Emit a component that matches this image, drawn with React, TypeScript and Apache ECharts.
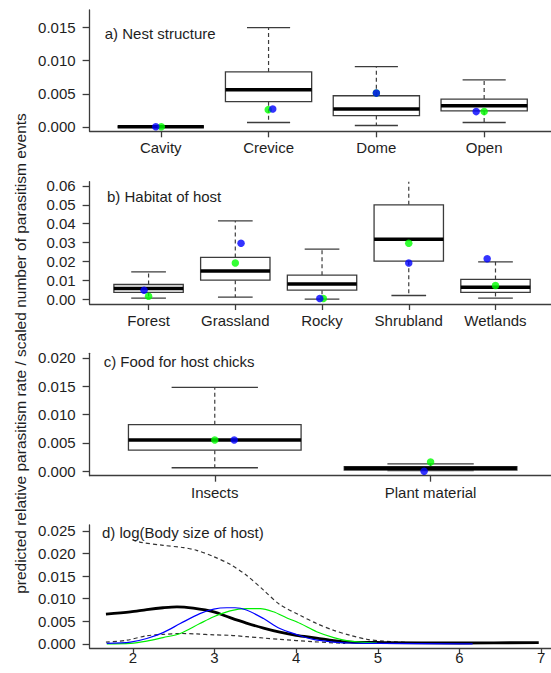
import React, { useEffect, useRef } from "react";
import * as echarts from "echarts";

// ---------- data ----------
const nestCats = ["Cavity", "Crevice", "Dome", "Open"];
// [lower whisker, Q1, median, Q3, upper whisker]
const nestBox = [
  [0, 0, 0, 0, 0],
  [0.00065, 0.0038, 0.0056, 0.0083, 0.015],
  [0.0002, 0.0017, 0.0027, 0.0047, 0.0091],
  [0.00065, 0.0024, 0.0032, 0.0042, 0.0071],
];
const nestGreen = [[1.005, 0], [1.997, 0.0026], [3.0, 0.0051], [4.0, 0.0023]];
const nestBlue = [[0.954, 0], [2.039, 0.0027], [3.0, 0.0051], [3.926, 0.0023]];
const nestTicks = [0, 0.005, 0.01, 0.015];

const habitatCats = ["Forest", "Grassland", "Rocky", "Shrubland", "Wetlands"];
const habitatBox = [
  [0.0007, 0.0037, 0.0058, 0.0079, 0.0146],
  [0.0012, 0.0102, 0.015, 0.0222, 0.0415],
  [0.0002, 0.0049, 0.0081, 0.0128, 0.0266],
  [0.0021, 0.0202, 0.0318, 0.05, 0.068],
  [0.0007, 0.0037, 0.0065, 0.0106, 0.0199],
];
const habitatGreen = [[1.0, 0.0017], [2.0, 0.0193], [3.015, 0.0005], [4.0, 0.0297], [5.0, 0.0074]];
const habitatBlue = [[0.948, 0.0049], [2.066, 0.0297], [2.974, 0.0005], [4.0, 0.0193], [4.904, 0.0215]];
const habitatTicks = [0, 0.01, 0.02, 0.03, 0.04, 0.05, 0.06];

const foodCats = ["Insects", "Plant material"];
const foodBox = [
  [0.0006, 0.0037, 0.0055, 0.0082, 0.0148],
  [0.0001, 0.0002, 0.0005, 0.0008, 0.0013],
];
const foodGreen = [[1.0, 0.0055], [2.0, 0.0016]];
const foodBlue = [[1.09, 0.0055], [1.97, 0.0]];
const foodTicks = [0, 0.005, 0.01, 0.015, 0.02];

const bodyTicksX = [2, 3, 4, 5, 6, 7];
const bodyTicksY = [0, 0.005, 0.01, 0.015, 0.02, 0.025];
const bodyMedian = [
  [1.67, 0.0066], [1.97, 0.0071], [2.17, 0.0076], [2.37, 0.008], [2.54, 0.0082],
  [2.74, 0.0079], [2.99, 0.0071], [3.19, 0.0058], [3.39, 0.0046], [3.6, 0.0035],
  [3.8, 0.0026], [4.0, 0.0019], [4.25, 0.0013], [4.46, 0.0007], [4.66, 0.0004],
  [5.07, 0.0003], [6.0, 0.0002], [6.97, 0.0003],
];
const bodyUpper = [
  [1.68, 0.0255], [1.85, 0.024], [2.07, 0.0226], [2.37, 0.0218], [2.62, 0.0213],
  [2.78, 0.0207], [2.99, 0.0193], [3.19, 0.0176], [3.39, 0.0152], [3.6, 0.0119],
  [3.8, 0.0087], [4.05, 0.0063], [4.25, 0.0045], [4.46, 0.003], [4.66, 0.0019],
  [4.87, 0.001], [5.07, 0.0006], [5.39, 0.0003],
];
const bodyLower = [
  [1.67, 0.0004], [1.92, 0.0008], [2.17, 0.0018], [2.37, 0.0021], [2.58, 0.0023],
  [2.78, 0.0022], [2.99, 0.002], [3.19, 0.0019], [3.39, 0.0016], [3.6, 0.0013],
  [3.8, 0.001], [4.2, 0.0005], [4.6, 0.0001],
];
const bodyBlue = [
  [1.68, 0.0001], [1.97, 0.0004], [2.17, 0.0012], [2.37, 0.0025], [2.58, 0.0045],
  [2.82, 0.0067], [2.99, 0.0077], [3.15, 0.008], [3.25, 0.008], [3.39, 0.0075],
  [3.6, 0.0056], [3.8, 0.0034], [4.0, 0.0021], [4.21, 0.001], [4.46, 0.0004],
  [4.66, 0.0002], [5.0, 0.0001], [6.16, 0.0],
];
const bodyGreen = [
  [1.68, 0.0], [1.97, 0.0001], [2.17, 0.0006], [2.37, 0.0014], [2.58, 0.0023],
  [2.82, 0.0045], [2.99, 0.006], [3.19, 0.0073], [3.39, 0.0078], [3.56, 0.0078],
  [3.72, 0.0071], [3.88, 0.0058], [4.05, 0.0045], [4.25, 0.0027], [4.46, 0.0014],
  [4.66, 0.0006], [4.99, 0.0002],
];

const panelTitles = [
  "a) Nest structure",
  "b) Habitat of host",
  "c) Food for host chicks",
  "d) log(Body size of host)",
];
const yTitle = "predicted relative parasitism rate / scaled number of parasitism events";

// ---------- styling ----------
const FONT = "'Liberation Sans', Arial, sans-serif";
const TEXT = "#1e1e1e";
const AXIS = "#3c3c3c";

function boxRender(params: any, api: any) {
  const x = api.value(0);
  const lo = api.coord([x, api.value(1)]);
  const q1 = api.coord([x, api.value(2)]);
  const md = api.coord([x, api.value(3)]);
  const q3 = api.coord([x, api.value(4)]);
  const hi = api.coord([x, api.value(5)]);
  const bw = api.size([0.8, 0])[0];
  const cw = api.size([0.4, 0])[0];
  const cx = md[0];
  const thin = { stroke: AXIS, lineWidth: 1.3, fill: null };
  const dashed = { stroke: AXIS, lineWidth: 1.2, lineDash: [4, 3], fill: null };
  return {
    type: "group",
    children: [
      { type: "line", shape: { x1: cx, y1: q3[1], x2: cx, y2: hi[1] }, style: dashed },
      { type: "line", shape: { x1: cx, y1: q1[1], x2: cx, y2: lo[1] }, style: dashed },
      { type: "line", shape: { x1: cx - cw / 2, y1: hi[1], x2: cx + cw / 2, y2: hi[1] }, style: thin },
      { type: "line", shape: { x1: cx - cw / 2, y1: lo[1], x2: cx + cw / 2, y2: lo[1] }, style: thin },
      {
        type: "rect",
        shape: { x: cx - bw / 2, y: q3[1], width: bw, height: q1[1] - q3[1] },
        style: { stroke: AXIS, lineWidth: 1.3, fill: "#ffffff" },
      },
      {
        type: "line",
        shape: { x1: cx - bw / 2, y1: md[1], x2: cx + bw / 2, y2: md[1] },
        style: { stroke: "#000000", lineWidth: 3.5, fill: null },
      },
    ],
  };
}

const grids = [
  { left: 89.6, right: 0, top: 10, height: 121.3 },
  { left: 89.6, right: 0, top: 181.7, height: 122.3 },
  { left: 89.6, right: 0, top: 353.3, height: 122.4 },
  { left: 89.6, right: 0, top: 525, height: 123.2 },
];

const labelStyle = { color: TEXT, fontSize: 15, fontFamily: FONT };

function catXAxis(grid: number, cats: string[], min: number, max: number) {
  const vals = cats.map((_, i) => i + 1);
  return {
    gridIndex: grid,
    type: "value",
    min,
    max,
    axisLine: { show: true, onZero: false, lineStyle: { color: AXIS, width: 1.3 } },
    axisTick: { show: true, customValues: vals, length: 6, lineStyle: { color: AXIS, width: 1.3 } },
    axisLabel: {
      ...labelStyle,
      customValues: vals,
      margin: 9,
      formatter: (v: number) => cats[Math.round(v) - 1] ?? "",
    },
    splitLine: { show: false },
  };
}

function valYAxis(grid: number, ticks: number[], min: number, max: number, digits: number) {
  return {
    gridIndex: grid,
    type: "value",
    min,
    max,
    axisLine: { show: true, onZero: false, lineStyle: { color: AXIS, width: 1.3 } },
    axisTick: { show: true, customValues: ticks, length: 7, lineStyle: { color: AXIS, width: 1.3 } },
    axisLabel: {
      ...labelStyle,
      customValues: ticks,
      margin: 14,
      formatter: (v: number) => v.toFixed(digits),
    },
    splitLine: { show: false },
  };
}

function boxSeries(idx: number, box: number[][]) {
  return {
    type: "custom",
    xAxisIndex: idx,
    yAxisIndex: idx,
    clip: true,
    silent: true,
    renderItem: boxRender,
    encode: { x: 0, y: [1, 2, 3, 4, 5] },
    data: box.map((b, i) => [i + 1, ...b]),
    z: 2,
  };
}

function pointSeries(idx: number, data: number[][], color: string, z: number) {
  return {
    type: "scatter",
    xAxisIndex: idx,
    yAxisIndex: idx,
    symbol: "circle",
    symbolSize: 7.5,
    itemStyle: { color, borderWidth: 0 },
    silent: true,
    data,
    z,
  };
}

function lineSeries(data: number[][], color: string, width: number, dashed: boolean, z: number) {
  return {
    type: "line",
    xAxisIndex: 3,
    yAxisIndex: 3,
    data,
    showSymbol: false,
    symbol: "none",
    smooth: 0.3,
    silent: true,
    lineStyle: { color, width, type: dashed ? [4, 3] : "solid" },
    z,
  };
}

const titleY = [33, 196, 361.7, 532.7];
const titleX = [104.7, 107, 103.7, 102];

export default function App() {
  const ref = useRef<HTMLDivElement>(null);
  useEffect(() => {
    if (!ref.current) return;
    const chart = echarts.init(ref.current, null, { renderer: "svg" });
    const option: any = {
      animation: false,
      backgroundColor: "#ffffff",
      grid: grids,
      xAxis: [
        catXAxis(0, nestCats, 0.34, 4.62),
        catXAxis(1, habitatCats, 0.32, 5.64),
        catXAxis(2, foodCats, 0.42, 2.558),
        {
          gridIndex: 3,
          type: "value",
          min: 1.47,
          max: 7.12,
          axisLine: { show: true, onZero: false, lineStyle: { color: AXIS, width: 1.3 } },
          axisTick: { show: true, customValues: bodyTicksX, length: 5, lineStyle: { color: AXIS, width: 1.3 } },
          axisLabel: { ...labelStyle, customValues: bodyTicksX, margin: 2, formatter: (v: number) => String(v) },
          splitLine: { show: false },
        },
      ],
      yAxis: [
        valYAxis(0, nestTicks, -0.00068, 0.01768, 3),
        valYAxis(1, habitatTicks, -0.0024, 0.0622, 2),
        valYAxis(2, foodTicks, -0.0008, 0.0208, 3),
        valYAxis(3, bodyTicksY, -0.00095, 0.0263, 3),
      ],
      series: [
        boxSeries(0, nestBox),
        pointSeries(0, nestGreen, "#00ff00", 5),
        pointSeries(0, nestBlue, "#0000ff", 6),
        boxSeries(1, habitatBox),
        pointSeries(1, habitatGreen, "#00ff00", 5),
        pointSeries(1, habitatBlue, "#0000ff", 6),
        boxSeries(2, foodBox),
        pointSeries(2, foodGreen, "#00ff00", 5),
        pointSeries(2, foodBlue, "#0000ff", 6),
        lineSeries(bodyUpper, "#333333", 1.2, true, 3),
        lineSeries(bodyLower, "#333333", 1.2, true, 3),
        lineSeries(bodyMedian, "#000000", 2.8, false, 4),
        lineSeries(bodyGreen, "#00ee00", 1.2, false, 5),
        lineSeries(bodyBlue, "#0000ff", 1.2, false, 6),
      ],
      graphic: [
        ...panelTitles.map((t, i) => ({
          type: "text",
          x: titleX[i],
          y: titleY[i],
          z: 100,
          style: {
            text: t,
            fontSize: 15,
            fontFamily: FONT,
            fill: TEXT,
            align: "left",
            verticalAlign: "middle",
            backgroundColor: i === 3 ? "#ffffff" : undefined,
          },
        })),
        {
          type: "text",
          x: 20,
          y: 353.5,
          rotation: Math.PI / 2,
          z: 100,
          style: {
            text: yTitle,
            fontSize: 15.5,
            fontFamily: FONT,
            fill: TEXT,
            align: "center",
            verticalAlign: "middle",
          },
        },
      ],
    };
    chart.setOption(option);
    return () => chart.dispose();
  }, []);
  return (
    <div
      ref={ref}
      style={{ position: "absolute", left: 0, top: 0, width: 551, height: 673, background: "#fff" }}
    />
  );
}
